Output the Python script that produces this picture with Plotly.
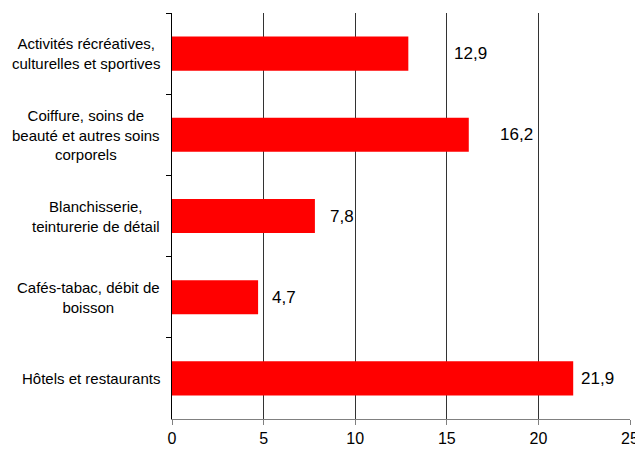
import plotly.graph_objects as go

categories = [
    "Activités récréatives,<br>culturelles et sportives",
    "Coiffure, soins de<br>beauté et autres soins<br>corporels",
    "Blanchisserie,<br>teinturerie de détail",
    "Cafés-tabac, débit de<br>boisson",
    "Hôtels et restaurants",
]
values = [12.9, 16.2, 7.8, 4.7, 21.9]
value_labels = ["12,9", "16,2", "7,8", "4,7", "21,9"]
x_ticks = [0, 5, 10, 15, 20, 25]

# décalage des étiquettes (déplacées à la main dans l'original)
label_shift = [44, 29, 13, 12, 6]

font_name = "Liberation Sans, Arial, sans-serif"

fig = go.Figure(go.Bar(
    x=values,
    y=categories,
    orientation="h",
    marker=dict(color="#ff0000", line=dict(width=0)),
    width=0.42,
    hoverinfo="x+y",
))

for cat, v, lab, s in zip(categories, values, value_labels, label_shift):
    fig.add_annotation(x=v, y=cat, text=lab, showarrow=False,
                       xanchor="left", xshift=s,
                       font=dict(family=font_name, size=17, color="black"))
    fig.add_annotation(x=0, xref="paper", y=cat, text=cat, showarrow=False,
                       xanchor="right", xshift=-10, align="center",
                       font=dict(family=font_name, size=15, color="black"))

# la page ajoute une marge de 8 px autour de la figure
fig.update_layout(
    width=635, height=444,
    margin=dict(l=164, r=13, t=5, b=33),
    plot_bgcolor="white", paper_bgcolor="white",
    showlegend=False,
    font=dict(family=font_name, size=16, color="black"),
    xaxis=dict(range=[0, 25], tickvals=x_ticks, showgrid=True,
               gridcolor="#333333", gridwidth=1, zeroline=False,
               showline=True, linecolor="#808080", linewidth=1,
               ticks="outside", ticklen=5, tickcolor="#808080",
               tickfont=dict(size=16), fixedrange=True),
    yaxis=dict(categoryorder="array", categoryarray=categories,
               autorange="reversed", showticklabels=False,
               tickson="boundaries", ticks="outside", ticklen=5,
               tickcolor="black", showline=True, linecolor="black",
               linewidth=1, showgrid=False, zeroline=False, fixedrange=True),
)

fig.write_html("out.html")
